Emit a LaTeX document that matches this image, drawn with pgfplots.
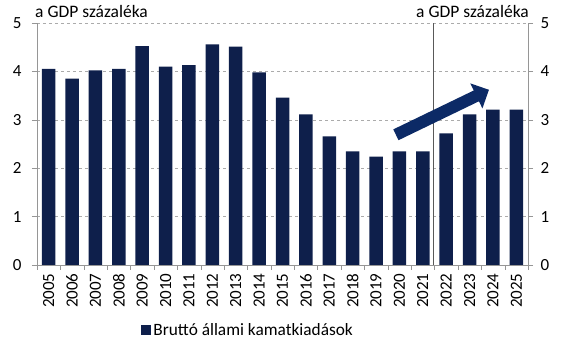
\documentclass[border=0pt]{standalone}
\usepackage{pgfplots}
\pgfplotsset{compat=1.18}
\usepackage{fontspec}
\setmainfont{Carlito}
\usetikzlibrary{arrows.meta}
\definecolor{navy}{RGB}{14,31,75}
\definecolor{arrowblue}{RGB}{12,42,102}
\definecolor{axgray}{RGB}{150,150,150}
\begin{document}
\begin{tikzpicture}
\pgfplotsset{
  common/.style={
    width=491pt, height=242pt, scale only axis,
    xmin=-0.5, xmax=20.5, ymin=0, ymax=5,
    ytick={0,1,2,3,4,5},
    tick align=outside,
    /pgf/number format/assume math mode=true,
    tick label style={font=\fontsize{17}{17}\selectfont, black},
    axis line style={-, axgray},
    ytick style={axgray},
    major tick length=5pt,
  }
}
\begin{axis}[common, name=main,
  ybar, bar width=13.5pt,
  axis x line*=bottom, axis y line*=left,
  yticklabel style={xshift=-7pt},
  xtick={0,...,20},
  xticklabels={2005,2006,2007,2008,2009,2010,2011,2012,2013,2014,2015,2016,2017,2018,2019,2020,2021,2022,2023,2024,2025},
  x tick label style={rotate=90, anchor=east, font=\fontsize{17}{17}\selectfont},
  major x tick style={draw=none},
  extra x ticks={-0.5,0.5,1.5,2.5,3.5,4.5,5.5,6.5,7.5,8.5,9.5,10.5,11.5,12.5,13.5,14.5,15.5,16.5,17.5,18.5,19.5,20.5},
  extra x tick labels={},
  extra x tick style={major x tick style={draw=axgray}, xmajorgrids=false},
  ymajorgrids, grid style={dashed, axgray!80},
  legend style={at={(0.43,-0.268)}, anchor=center, draw=none, fill=none,
    font=\fontsize{17.3}{17.3}\selectfont},
  legend image code/.code={\fill[navy] (0pt,-5pt) rectangle (10pt,5pt);},
]
\addplot[fill=navy, draw=none] coordinates {
(0,4.05) (1,3.85) (2,4.02) (3,4.05) (4,4.52) (5,4.10) (6,4.13) (7,4.56)
(8,4.51) (9,3.98) (10,3.46) (11,3.11) (12,2.66) (13,2.35) (14,2.24)
(15,2.35) (16,2.35) (17,2.72) (18,3.11) (19,3.21) (20,3.21)};
\addlegendentry{Bruttó állami kamatkiadások}
\draw[black!65, line width=0.8pt] (axis cs:16.45,0) -- (axis cs:16.45,5);
\draw[arrowblue, line width=12pt, -{Triangle[length=14pt,width=27pt]}]
  (axis cs:14.85,2.69) -- (axis cs:18.83,3.62);
\end{axis}
\begin{axis}[common,
  axis x line=none, axis y line*=right,
  yticklabel style={xshift=4pt},
  xtick=\empty,
]
\addplot[draw=none] coordinates {(0,0)};
\end{axis}
\node[anchor=base west, font=\fontsize{17.5}{17.5}\selectfont, inner sep=0pt]
  at ([xshift=-2pt,yshift=5pt]main.north west) {a GDP százaléka};
\node[anchor=base east, font=\fontsize{17.5}{17.5}\selectfont, inner sep=0pt]
  at ([xshift=1pt,yshift=5pt]main.north east) {a GDP százaléka};
\path ([xshift=-37pt,yshift=-90pt]main.south west) rectangle ([xshift=34pt,yshift=23pt]main.north east);
\end{tikzpicture}
\end{document}
